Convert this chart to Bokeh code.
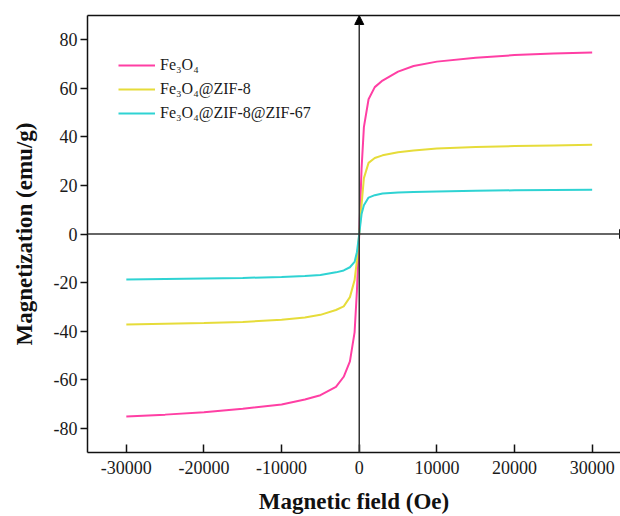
from bokeh.plotting import figure
from bokeh.models import (Range1d, LinearAxis, FixedTicker, Arrow, NormalHead,
                          Legend, LegendItem)
from bokeh.embed import file_html
from bokeh.resources import INLINE

# ---------------- data ----------------
field_oe = [-30000, -25000, -20000, -15000, -10000, -7000, -5000, -3000, -2000,
            -1200, -600, -300, 0, 300, 600, 1200, 2000, 3000, 5000, 7000,
            10000, 15000, 20000, 25000, 30000]
m_fe3o4 = [-75.2, -74.4, -73.4, -72.0, -70.2, -68.2, -66.4, -63.0, -58.8,
           -52.5, -40.5, -23.5, 0.0, 27.0, 44.0, 55.5, 60.5, 63.2, 66.9, 69.2,
           71.0, 72.6, 73.7, 74.3, 74.8]
m_zif8 = [-37.3, -37.0, -36.7, -36.2, -35.3, -34.4, -33.3, -31.3, -29.8,
          -26.0, -19.0, -11.0, 0.0, 12.0, 23.0, 29.3, 31.3, 32.4, 33.7, 34.4,
          35.2, 35.8, 36.2, 36.5, 36.8]
m_zif67 = [-18.7, -18.5, -18.3, -18.1, -17.7, -17.3, -16.9, -15.8, -15.0,
           -13.7, -11.5, -7.5, 0.0, 8.2, 11.8, 15.0, 16.0, 16.7, 17.1, 17.3,
           17.5, 17.8, 18.0, 18.1, 18.2]
series_labels = ["Fe\u2083O\u2084", "Fe\u2083O\u2084@ZIF-8", "Fe\u2083O\u2084@ZIF-8@ZIF-67"]
series_colors = ["#FF3FA4", "#E6DC3A", "#2FD3D3"]
x_ticks = [-30000, -20000, -10000, 0, 10000, 20000, 30000]
y_ticks = [-80, -60, -40, -20, 0, 20, 40, 60, 80]

FONT = "Liberation Serif"
AX = "#111111"

p = figure(width=620, height=516, output_backend="svg", toolbar_location=None,
           x_range=Range1d(-35000, 33650), y_range=Range1d(-90, 90),
           min_border_left=87, min_border_right=0, min_border_top=15,
           min_border_bottom=64)
p.outline_line_color = None
p.grid.visible = False
p.background_fill_color = "white"
p.border_fill_color = "white"

# bottom axis
xa = p.xaxis[0]
xa.ticker = FixedTicker(ticks=x_ticks)
xa.major_label_overrides = {t: str(t) for t in x_ticks}
xa.major_tick_in = 8
xa.major_tick_out = 0
xa.minor_tick_line_color = None
xa.axis_line_width = 1.5
xa.axis_line_color = AX
xa.major_tick_line_width = 1.5
xa.major_tick_line_color = AX
xa.major_label_text_font = FONT
xa.major_label_text_font_size = "18px"
xa.major_label_text_color = "#1a1a1a"
xa.major_label_standoff = 8
xa.axis_label = "Magnetic field (Oe)"
xa.axis_label_text_font = FONT
xa.axis_label_text_font_style = "bold"
xa.axis_label_text_font_size = "23px"
xa.axis_label_text_color = "#111111"
xa.axis_label_standoff = 12

# left axis
ya = p.yaxis[0]
ya.ticker = FixedTicker(ticks=y_ticks)
ya.major_label_overrides = {t: str(t) for t in y_ticks}
ya.major_tick_in = 0
ya.major_tick_out = 7
ya.minor_tick_line_color = None
ya.axis_line_width = 1.5
ya.axis_line_color = AX
ya.major_tick_line_width = 1.5
ya.major_tick_line_color = AX
ya.major_label_text_font = FONT
ya.major_label_text_font_size = "18px"
ya.major_label_text_color = "#1a1a1a"
ya.major_label_standoff = 3
ya.axis_label = "Magnetization (emu/g)"
ya.axis_label_text_font = FONT
ya.axis_label_text_font_style = "bold"
ya.axis_label_text_font_size = "23px"
ya.axis_label_text_color = "#111111"
ya.axis_label_standoff = 14

# top border line (no ticks)
top = LinearAxis(ticker=FixedTicker(ticks=[]), axis_line_width=1.5,
                 axis_line_color=AX, major_tick_line_color=None,
                 minor_tick_line_color=None, major_label_text_font_size="0px")
p.add_layout(top, "above")

# curves
renderers = []
for ys, col in zip([m_fe3o4, m_zif8, m_zif67], series_colors):
    r = p.line(field_oe, ys, line_color=col, line_width=2)
    renderers.append(r)

# zero axes with arrows
p.add_layout(Arrow(end=NormalHead(size=9, fill_color="black", line_color="black"),
                   x_start=0, y_start=-90, x_end=0, y_end=90,
                   line_width=1.5, line_color="#333333"))
p.add_layout(Arrow(end=NormalHead(size=9, fill_color="black", line_color="black"),
                   x_start=-35000, y_start=0, x_end=34700, y_end=0,
                   line_width=1.5, line_color="#333333"))

legend = Legend(items=[LegendItem(label=l, renderers=[r])
                       for l, r in zip(series_labels, renderers)],
                location=(31, 329), background_fill_alpha=0,
                border_line_color=None, label_text_font=FONT,
                label_text_font_size="16px", label_text_color="#1a1a1a",
                glyph_width=37, glyph_height=20, label_height=20, spacing=4,
                padding=0, margin=0, label_standoff=5)
p.add_layout(legend)

open("out.html", "w").write(file_html(p, INLINE))
